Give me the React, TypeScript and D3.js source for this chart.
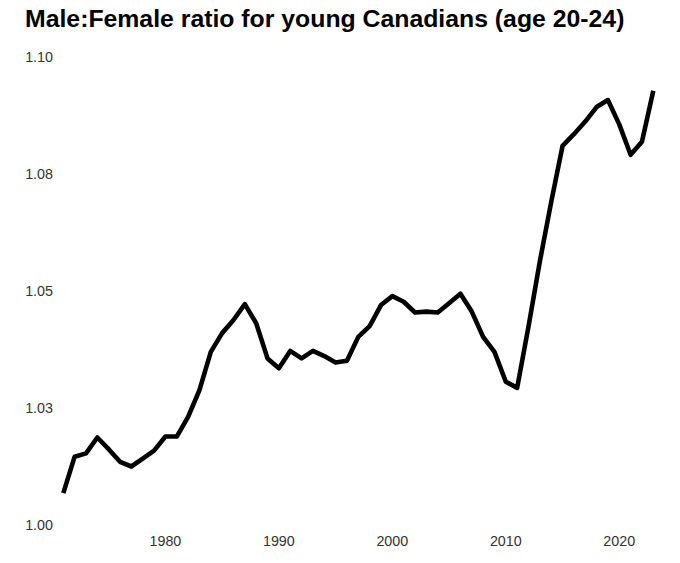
import React from "react";
import * as d3 from "d3";

const years: number[] = [
  1971, 1972, 1973, 1974, 1975, 1976, 1977, 1978, 1979, 1980,
  1981, 1982, 1983, 1984, 1985, 1986, 1987, 1988, 1989, 1990,
  1991, 1992, 1993, 1994, 1995, 1996, 1997, 1998, 1999, 2000,
  2001, 2002, 2003, 2004, 2005, 2006, 2007, 2008, 2009, 2010,
  2011, 2012, 2013, 2014, 2015, 2016, 2017, 2018, 2019, 2020,
  2021, 2022, 2023,
];

const ratios: number[] = [
  1.0068, 1.0146, 1.0153, 1.0187, 1.0162, 1.0135, 1.0125, 1.0142, 1.0159, 1.0189,
  1.0189, 1.0231, 1.0288, 1.037, 1.041, 1.0438, 1.0472, 1.0431, 1.0356, 1.0335,
  1.0372, 1.0356, 1.0372, 1.0361, 1.0347, 1.0351, 1.0402, 1.0425, 1.047, 1.0489,
  1.0477, 1.0454, 1.0456, 1.0454, 1.0474, 1.0494, 1.0456, 1.0402, 1.037, 1.0306,
  1.0293, 1.0424, 1.0563, 1.069, 1.081, 1.0835, 1.0862, 1.0893, 1.0908, 1.0856,
  1.0791, 1.0819, 1.0928,
];

const yTickValues: number[] = [1.0, 1.025, 1.05, 1.075, 1.1];
const yTickLabels: string[] = ["1.00", "1.03", "1.05", "1.08", "1.10"];
const xTickValues: number[] = [1980, 1990, 2000, 2010, 2020];
const xTickLabels: string[] = ["1980", "1990", "2000", "2010", "2020"];

const title = "Male:Female ratio for young Canadians (age 20-24)";

export default function App() {
  const W = 680;
  const H = 563;
  const x = d3.scaleLinear().domain([1971, 2023]).range([63.3, 653.3]);
  const y = d3.scaleLinear().domain([1.0, 1.1]).range([525, 57]);
  const pts: [number, number][] = years.map((yr, i) => [yr, ratios[i]]);
  const line = d3
    .line<[number, number]>()
    .x((d) => x(d[0]))
    .y((d) => y(d[1]));
  const font = "'Liberation Sans', Arial, sans-serif";
  return (
    <svg
      width={W}
      height={H}
      style={{ position: "absolute", left: 0, top: 0, background: "#fff" }}
    >
      <rect x={0} y={0} width={W} height={H} fill="#fff" />
      <text
        x={25}
        y={27}
        fontFamily={font}
        fontWeight="bold"
        fontSize={24.8}
        fill="#000"
      >
        {title}
      </text>
      {yTickValues.map((v, i) => (
        <text
          key={"y" + i}
          x={53}
          y={y(v)}
          dy="0.35em"
          textAnchor="end"
          fontFamily={font}
          fontSize={14.3}
          fill="#333"
        >
          {yTickLabels[i]}
        </text>
      ))}
      {xTickValues.map((v, i) => (
        <text
          key={"x" + i}
          x={x(v)}
          y={546}
          textAnchor="middle"
          fontFamily={font}
          fontSize={14.3}
          fill="#333"
        >
          {xTickLabels[i]}
        </text>
      ))}
      <path
        d={line(pts) || ""}
        fill="none"
        stroke="#000"
        strokeWidth={4.6}
        strokeLinejoin="round"
        strokeLinecap="butt"
      />
    </svg>
  );
}
